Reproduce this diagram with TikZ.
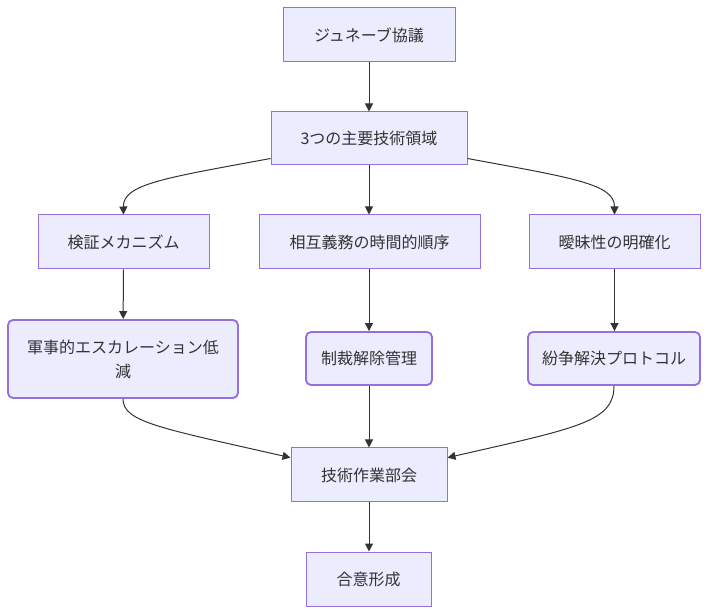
\documentclass[tikz,border=0pt]{standalone}
\usepackage{fontspec}
\setmainfont{Noto Sans CJK JP}
\usetikzlibrary{arrows.meta,positioning}
\definecolor{boxfill}{HTML}{ECECFF}
\definecolor{boxdraw}{HTML}{9370DB}
\definecolor{ink}{HTML}{333333}

\begin{document}
\begin{tikzpicture}[
  x=0.75pt, y=0.75pt,
  font=\fontsize{12}{18}\selectfont, text=ink,
  block/.style={rectangle, draw=boxdraw, fill=boxfill, line width=0.75pt, align=center, inner sep=0pt, minimum height=40.5pt},
  roundblock/.style={block, rounded corners=3.75pt, line width=1.4pt},
  line/.style={-{Triangle[length=6pt, width=6pt]}, draw=ink, line width=0.75pt}
]
\useasboundingbox (0,0) rectangle (710,614);

\node[block, minimum width=129pt] (geneva) at (369,579) {ジュネーブ協議};
\node[block, minimum width=147pt, minimum height=39.75pt] (areas) at (369,475.5) {3つの主要技術領域};
\node[block, minimum width=128.25pt] (verify) at (123.5,372) {検証メカニズム};
\node[block, minimum width=165.75pt] (order) at (369.5,372) {相互義務の時間的順序};
\node[block, minimum width=128.25pt] (clarify) at (614.5,372) {曖昧性の明確化};
\node[roundblock, minimum width=172.5pt, minimum height=58.5pt] (deesc) at (123,255) {軍事的エスカレーション低\\減};
\node[roundblock, minimum width=94.5pt, minimum height=39.75pt] (sanction) at (369,255.5) {制裁解除管理};
\node[roundblock, minimum width=129pt, minimum height=39.75pt] (dispute) at (614,255.5) {紛争解決プロトコル};
\node[block, minimum width=117pt] (wg) at (369,139) {技術作業部会};
\node[block, minimum width=93.75pt] (consensus) at (368.5,35) {合意形成};

\draw[line] (geneva) -- (areas);
\draw[line] ([yshift=-15pt]areas.west) .. controls (165,436) and (123,430) .. (verify.north);
\draw[line] (areas) -- (areas |- order.north);
\draw[line] ([yshift=-15pt]areas.east) .. controls (573,436) and (614.5,430) .. (clarify.north);
\draw[line] (verify) -- (deesc);
\draw[line] (sanction |- order.south) -- (sanction);
\draw[line] (clarify) -- (clarify |- dispute.north);
\draw[line] (deesc.south) .. controls (123,192) and (160,186) .. ([yshift=13pt]wg.west);
\draw[line] (sanction) -- (wg);
\draw[line] (dispute.south) .. controls (614,192) and (577,186) .. ([yshift=13pt]wg.east);
\draw[line] (wg) -- (wg |- consensus.north);
\end{tikzpicture}
\end{document}
